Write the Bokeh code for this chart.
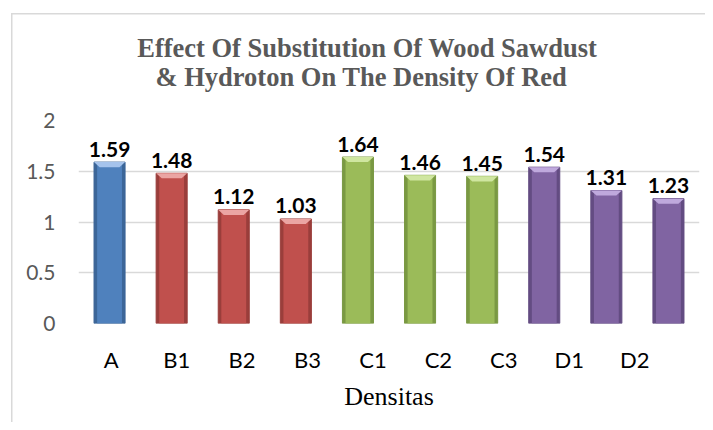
from bokeh.plotting import figure
from bokeh.models import Range1d, LinearAxis, FixedTicker, Title, ColumnDataSource
from bokeh.embed import file_html
from bokeh.resources import INLINE
from bokeh.core.properties import value

# ---- data ----
title_lines = ["Effect Of Substitution Of Wood Sawdust", "& Hydroton On The Density Of Red"]
categories = ["A", "B1", "B2", "B3", "C1", "C2", "C3", "D1", "D2", "D3"]
groups = ["A", "B", "B", "B", "C", "C", "C", "D", "D", "D"]
densities = [1.59, 1.48, 1.12, 1.03, 1.64, 1.46, 1.45, 1.54, 1.31, 1.23]
y_ticks = [0, 0.5, 1, 1.5, 2]
y_tick_labels = ["0", "0.5", "1", "1.5", "2"]
x_axis_title = "Densitas"

# ---- styles ----
base_col = {"A": "#4F81BD", "B": "#C0504D", "C": "#9BBB59", "D": "#8064A2"}
edge_col = {"A": "#3C6698", "B": "#9A3E3B", "C": "#7A9943", "D": "#634C82"}
top_col = {"A": "#A5C3EC", "B": "#EBA5A3", "C": "#CFE6A0", "D": "#BFA9DD"}

xs = [i + 0.5 for i in range(len(categories))]
bar_w = 0.5
inner_w = 0.40
cap_h = 0.05

src = ColumnDataSource(dict(
    x=xs, top=densities, cat=categories,
    base=[base_col[g] for g in groups],
    edge=[edge_col[g] for g in groups],
    lbl=[f"{v:.2f}" for v in densities],
))

p = figure(width=705, height=422, output_backend="svg", toolbar_location=None,
           x_range=Range1d(0, len(categories)), y_range=Range1d(0, 2),
           x_axis_type=None,
           min_border_left=78, min_border_right=6, min_border_top=120, min_border_bottom=99)
p.outline_line_color = None
p.background_fill_color = "white"
p.border_fill_color = None
p.styles = {
    "background-color": "white",
    "background-image": "linear-gradient(#D9D9D9, #D9D9D9), linear-gradient(#D9D9D9, #D9D9D9)",
    "background-size": "1.5px 100%, 100% 1.5px",
    "background-position": "11px 13px, 11px 13px",
    "background-repeat": "no-repeat",
}

# grid
p.xgrid.visible = False
p.ygrid.ticker = FixedTicker(ticks=y_ticks)
p.ygrid.grid_line_color = "#D9D9D9"
p.ygrid.grid_line_width = 1.5

# y axis
ya = p.yaxis[0]
ya.ticker = FixedTicker(ticks=y_ticks)
ya.major_label_overrides = {t: s for t, s in zip(y_ticks, y_tick_labels)}
ya.axis_line_color = None
ya.major_tick_line_color = None
ya.minor_tick_line_color = None
ya.major_label_standoff = 17
ya.major_label_text_font = "Lato"
ya.major_label_text_font_size = "21px"
ya.major_label_text_color = "#595959"

# x labels axis
p.extra_x_ranges = {"lab": Range1d(0, 9.49)}
xa = LinearAxis(x_range_name="lab", ticker=FixedTicker(ticks=xs),
                major_label_overrides={x: c for x, c in zip(xs, categories)})
xa.axis_line_color = None
xa.major_tick_line_color = None
xa.minor_tick_line_color = None
xa.major_label_standoff = 16
xa.major_label_text_font = "Lato"
xa.major_label_text_font_size = "22px"
xa.major_label_text_color = "black"
xa.axis_label = x_axis_title
xa.axis_label_text_font = "Liberation Serif"
xa.axis_label_text_font_style = "normal"
xa.axis_label_text_font_size = "26px"
xa.axis_label_text_color = "black"
xa.axis_label_standoff = 6
p.add_layout(xa, "below")

# bars (beveled look)
p.vbar(x="x", top="top", bottom=0, width=bar_w, source=src, fill_color="edge", line_color="edge", line_width=1)
p.vbar(x="x", top="top", bottom=0, width=inner_w, source=src, fill_color="base", line_color=None)
cap_xs = [[x - bar_w / 2, x + bar_w / 2, x + inner_w / 2 - 0.04, x - inner_w / 2 + 0.04] for x in xs]
cap_ys = [[v, v, v - cap_h, v - cap_h] for v in densities]
p.patches(xs=cap_xs, ys=cap_ys, fill_color=[top_col[g] for g in groups], line_color=None)

# data labels
p.text(x="x", y="top", text="lbl", source=src, text_align="center", text_baseline="alphabetic",
       y_offset=-13, text_font=value("Lato"), text_font_style="bold", text_font_size="21px",
       text_color="black")

# title: spacer nearest the frame, then line 2, then line 1
p.add_layout(Title(text=" ", text_font_size="1px", standoff=26), "above")
title_offsets = [58.7, 77.0]
title_standoffs = [-6, 0]
for i in (1, 0):
    p.add_layout(Title(text=title_lines[i], align="left", offset=title_offsets[i],
                       standoff=title_standoffs[i], vertical_align="bottom",
                       text_font="Liberation Serif", text_font_style="bold",
                       text_font_size="26.5px", text_color="#595959"), "above")

open("out.html", "w").write(file_html(p, INLINE))
